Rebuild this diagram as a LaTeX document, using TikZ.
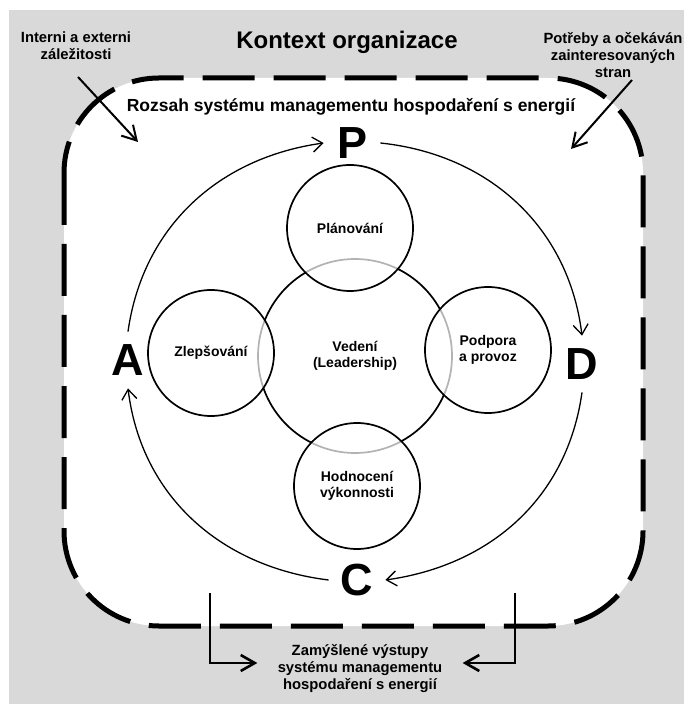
\documentclass[tikz,border=0pt]{standalone}
\usepackage{fontspec}
\setmainfont{Liberation Sans}
\usetikzlibrary{arrows.meta}
\definecolor{bggray}{RGB}{217,217,217}

\begin{document}
\begin{tikzpicture}[x=0.5pt,y=0.5pt,
    txt/.style={font=\fontsize{7.4}{8.5}\selectfont\bfseries, align=center},
    pdca/.style={circle, minimum size=28pt, inner sep=0pt, font=\fontsize{22.5}{24}\selectfont\bfseries},
    part/.style={circle, draw, line width=0.85pt, fill=white, fill opacity=0.7, text opacity=1, minimum size=63pt, inner sep=0pt, align=center, font=\fontsize{7}{8.3}\selectfont\bfseries},
    cycle/.style={-{Straight Barb[length=5pt,width=7.5pt]}, line width=0.65pt},
    ext/.style={-{Straight Barb[length=7pt,width=8pt]}, line width=1pt},
    bracket/.style={-{Straight Barb[length=7pt,width=8pt]}, line width=1.3pt}]
    \useasboundingbox (0,0) rectangle (684,-704);
    \fill[bggray] (9,-10) rectangle (684,-704);
    \draw[line width=2.5pt, dash pattern=on 26pt off 9.5pt, fill=white, rounded corners=47.5pt] (64,-78) rectangle (643,-626);
    \node[font=\fontsize{12}{14}\selectfont\bfseries] (title) at (347,-42) {Kontext organizace};
    \node[font=\fontsize{8.75}{10}\selectfont\bfseries] (rozsah) at (351,-107) {Rozsah systému managementu hospodaření s energií};
    \node[txt] (issues) at (76,-46) {Interni a externi\\záležitosti};
    \node[txt] (needs) at (613,-55) {Potřeby a očekáván\\zainteresovaných\\stran};
    \node[circle, draw, line width=0.85pt, minimum size=97pt, align=center, font=\fontsize{7}{8}\selectfont\bfseries] (lead) at (355,-356) {Vedení\\(Leadership)};
    \node[part] (plan) at (350,-228) {Plánování};
    \node[part] (impr) at (211,-353) {Zlepšování};
    \node[part] (supp) at (488,-350) {Podpora\\a provoz};
    \node[part] (eval) at (357,-486) {Hodnocení\\výkonnosti};
    \node[pdca] (P) at (352,-143) {P};
    \node[pdca] (D) at (582,-364) {D};
    \node[pdca] (C) at (357,-580) {C};
    \node[pdca] (A) at (128,-360) {A};
    \draw[cycle] (A.north) to[out=82, in=188] (P.west);
    \draw[cycle] (P.east) to[out=-6, in=97] (D.north);
    \draw[cycle] (D.south) to[out=-98, in=8] (C.east);
    \draw[cycle] (C.west) to[out=173, in=-83] (A.south);
    \coordinate (iefrom) at (78,-77);
    \coordinate (ieto) at (138,-142);
    \coordinate (ndfrom) at (632,-80);
    \coordinate (ndto) at (571,-149);
    \draw[ext] (iefrom) -- (ieto);
    \draw[ext] (ndfrom) -- (ndto);
    \node[txt, inner xsep=10pt] (outputs) at (360,-669) {Zamýšlené výstupy\\systému managementu\\hospodaření s energií};
    \coordinate (lout) at (210,-593);
    \coordinate (rout) at (515,-593);
    \draw[bracket] (lout) |- ([yshift=3pt]outputs.west);
    \draw[bracket] (rout) |- ([yshift=3pt]outputs.east);
\end{tikzpicture}
\end{document}
